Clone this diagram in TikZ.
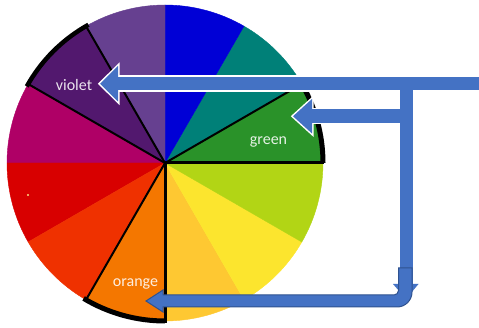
\documentclass[tikz,border=0pt]{standalone}
\usepackage{fontspec}
\setmainfont{Carlito}
\definecolor{cGreen}{HTML}{2A9229}
\definecolor{cTeal}{HTML}{008078}
\definecolor{cBlue}{HTML}{0000D6}
\definecolor{cPurple}{HTML}{664090}
\definecolor{cViolet}{HTML}{52186E}
\definecolor{cMagenta}{HTML}{AF0066}
\definecolor{cRed}{HTML}{D80000}
\definecolor{cRedOrange}{HTML}{EF3100}
\definecolor{cOrange}{HTML}{F47700}
\definecolor{cGold}{HTML}{FEC832}
\definecolor{cYellow}{HTML}{FCE52E}
\definecolor{cLime}{HTML}{B2D515}
\definecolor{arrowBlue}{HTML}{4472C4}
\definecolor{arrowEdge}{HTML}{2F528F}
\tikzset{
  wheellabel/.style={text=white, text opacity=0.88, font=\fontsize{16}{19}\selectfont, inner sep=0pt, anchor=base},
  spoke/.style={line width=2pt, black},
  rimarc/.style={line width=4.5pt, black},
  blockfill/.style={fill=arrowBlue, draw=none},
  blockhalo/.style={draw=white, line width=3pt, line join=miter},
}
\begin{document}
\begin{tikzpicture}[x=1pt,y=-1pt]
\useasboundingbox (0,0) rectangle (479,328);
% colour wheel
\begin{scope}[shift={(165,163)}, yscale=-1]
  \foreach \a/\c in {0/cGreen,30/cTeal,60/cBlue,90/cPurple,120/cViolet,150/cMagenta,180/cRed,210/cRedOrange,240/cOrange,270/cGold,300/cYellow,330/cLime}{
    \fill[\c, draw=\c, line width=0.4pt] (0,0) -- (\a:158) arc[start angle=\a, end angle=\a+30, radius=158] -- cycle;
  }
  \fill[cGold!60!white] (-137,-32) circle[radius=1.1];
  % violet outline
  \draw[spoke] (0,0) -- (120:158);
  \draw[spoke] (0,0) -- (150:158);
  \draw[rimarc] (119:158) arc[start angle=119, end angle=151, radius=158];
  % green outline
  \draw[spoke, line width=3pt] (0,0) -- (0:159);
  \draw[spoke] (0,0) -- (30:158);
  \draw[rimarc, line width=5pt] (0:158) arc[start angle=0, end angle=31, radius=158];
  % orange outline
  \draw[spoke] (0,0) -- (240:158);
  \draw[spoke, line width=3pt] (0,0) -- (270:160);
  \draw[rimarc, line width=5pt] (239:158) arc[start angle=239, end angle=270, radius=158];
\end{scope}
% labels
\node[wheellabel] (violetlbl) at (74,91) {violet};
\node[wheellabel] (greenlbl) at (268.5,145) {green};
\node[wheellabel] (orangelbl) at (135.5,287) {orange};
% T-shaped arrow (halo first, then fill)
\foreach \sty in {blockhalo,blockfill}{
  \path[\sty] (118,77) rectangle (482,90.5);
  \path[\sty] (118,66) -- (100,83.75) -- (118,101.5) -- cycle;
  \path[\sty] (399.5,84) rectangle (412.5,285);
  \path[\sty] (393,284) -- (418.5,284) -- (406,299) -- cycle;
  \path[\sty] (312,109.5) rectangle (405,123);
  \path[\sty] (312,99) -- (293,116.25) -- (312,133.5) -- cycle;
}
% bent arrow to orange
\path[fill=arrowBlue, draw=arrowEdge, line width=1pt, line join=miter]
  (398.5,268) -- (412,268) -- (412,292)
  .. controls (412,300.3) and (405.3,307) .. (397,307)
  -- (163,307) -- (163,312) -- (146,301) -- (163,290) -- (163,295)
  -- (394,295) .. controls (396.5,295) and (398.5,293) .. (398.5,290.5) -- cycle;
\end{tikzpicture}
\end{document}
